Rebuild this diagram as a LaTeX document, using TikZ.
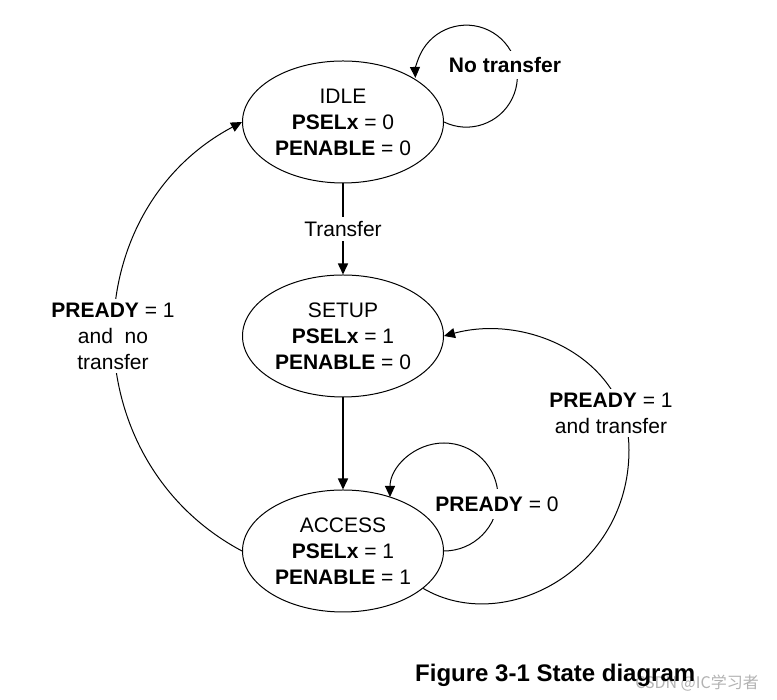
\documentclass[tikz,border=0pt]{standalone}
\usepackage{fontspec}
\setmainfont{Liberation Sans}
\newfontfamily\cjkfont{Noto Sans CJK SC}
\usetikzlibrary{arrows.meta,shapes.geometric}

\begin{document}
\begin{tikzpicture}[x=1pt,y=1pt,
st/.style={ellipse,draw,line width=1pt,minimum width=201pt,minimum height=122pt,inner sep=0pt,align=center,font=\fontsize{21}{26}\selectfont},
lab/.style={fill=white,inner sep=4pt,align=center,font=\fontsize{21}{26}\selectfont},
tip/.style={-{Triangle[length=11pt,width=10pt]}}]
\useasboundingbox (0,0) rectangle (777,700);
\node[st] (idle) at (343,578) {IDLE\\\textbf{PSELx} = 0\\\textbf{PENABLE} = 0};
\node[st] (setup) at (343,364) {SETUP\\\textbf{PSELx} = 1\\\textbf{PENABLE} = 0};
\node[st] (access) at (343,149) {ACCESS\\\textbf{PSELx} = 1\\\textbf{PENABLE} = 1};
\draw[tip,line width=1.6pt] (idle) -- (setup) node[lab,midway] (tr) {Transfer};
\draw[tip,line width=1.6pt] (setup) -- (access);
\draw[tip,line width=1pt] (idle.east) arc[start angle=-116,end angle=182,radius=51];
\node[lab,inner sep=6pt] (nt) at (505,635) {\textbf{No transfer}};
\draw[tip,line width=1pt] (access.east) arc[start angle=-90,end angle=180,radius=54];
\node[lab,inner ysep=8pt] (rd0) at (497,196) {\textbf{PREADY} = 0};
\draw[tip,line width=1pt] (access.-25) .. controls (504,64) and (629,130) .. (629,250)
  .. controls (629,340) and (529,387) .. (setup.east);
\node[lab] (rdt) at (611,287) {\textbf{PREADY} = 1\\and transfer};
\draw[tip,line width=1pt] (access.west) to[bend left=62,looseness=1.15] (idle.west);
\node[lab] (rdn) at (113,364) {\textbf{PREADY} = 1\\and\ \ no\\transfer};
\node[text=black!30,font=\cjkfont\fontsize{16}{16}\selectfont] (wm) at (697,17) {CSDN @IC学习者};
\node[anchor=west,inner sep=0pt,font=\bfseries\fontsize{24}{28}\selectfont] (cap) at (415,25) {Figure 3-1 State diagram};
\end{tikzpicture}
\end{document}
